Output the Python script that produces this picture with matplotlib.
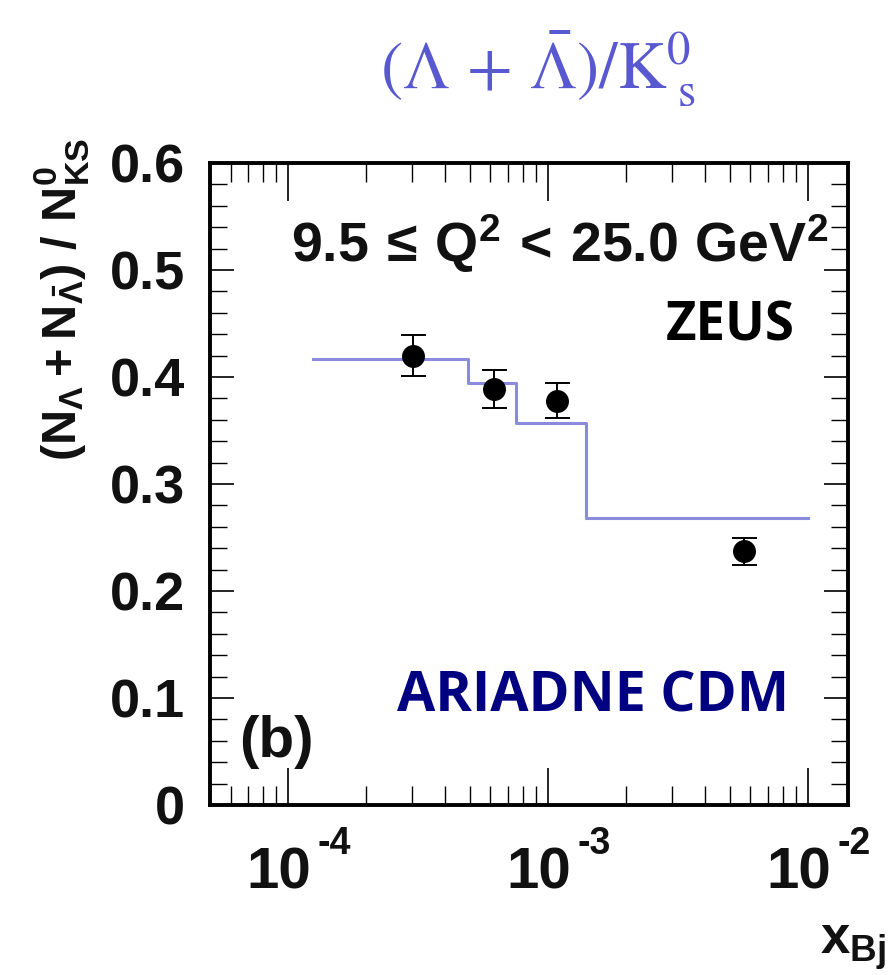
import matplotlib
matplotlib.use("Agg")
import matplotlib.pyplot as plt
from matplotlib.ticker import LogLocator, MultipleLocator, FixedLocator, NullFormatter
import numpy as np

plt.rcParams['mathtext.fontset'] = 'custom'
plt.rcParams['mathtext.rm'] = 'Liberation Sans:bold'
plt.rcParams['mathtext.bf'] = 'Liberation Sans:bold'
plt.rcParams['mathtext.it'] = 'Liberation Sans:bold'
plt.rcParams['mathtext.sf'] = 'Liberation Sans:bold'

# data
x_data = [3.03e-4, 6.2e-4, 1.08e-3, 5.67e-3]
y_data = [0.420, 0.389, 0.378, 0.237]
y_err = [0.019, 0.018, 0.016, 0.013]

mc_edges = [1.24e-4, 4.9e-4, 7.5e-4, 1.4e-3, 1.0e-2]
mc_vals = [0.417, 0.394, 0.357, 0.268]

yticks = [0, 0.1, 0.2, 0.3, 0.4, 0.5, 0.6]
ytick_labels = ['0', '0.1', '0.2', '0.3', '0.4', '0.5', '0.6']
xticks = [1e-4, 1e-3, 1e-2]
xtick_base = ['10', '10', '10']
xtick_exp = ['-4', '-3', '-2']

fig = plt.figure(figsize=(8.88, 9.75), dpi=100)
ax = fig.add_axes([210/888, 1-805/975, (848-210)/888, (805-163)/975])
ax.set_xscale('log')
ax.set_xlim(5.0e-5, 1.425e-2)
ax.set_ylim(0, 0.6)

# MC step histogram
step_x = mc_edges
step_y = mc_vals + [mc_vals[-1]]
ax.step(step_x, step_y, where='post', color='#8a8ade', lw=2.2, zorder=2)

# data points
ax.errorbar(x_data, y_data, yerr=y_err, fmt='o', color='black', ms=15.5,
            ecolor='black', elinewidth=1.4, capsize=9, capthick=1.4, zorder=3)

# ticks
ax.xaxis.set_major_locator(FixedLocator(xticks))
ax.set_xticklabels([])
ax.xaxis.set_minor_locator(LogLocator(base=10, subs=np.arange(2, 10), numticks=20))
ax.xaxis.set_minor_formatter(NullFormatter())
ax.set_yticks(yticks)
ax.set_yticklabels(ytick_labels)
ax.yaxis.set_minor_locator(MultipleLocator(0.02))

ax.tick_params(axis='both', which='both', direction='in', top=True, right=True, color='black')
ax.tick_params(axis='x', which='major', length=27, width=1.2)
ax.tick_params(axis='x', which='minor', length=14, width=1.0)
ax.tick_params(axis='y', which='major', length=17, width=1.2, labelsize=39, pad=18)
ax.tick_params(axis='y', which='minor', length=12, width=1.0)
for lab in ax.get_yticklabels():
    lab.set_fontweight('bold')
    lab.set_fontfamily('Liberation Sans')
    lab.set_color('#111111')

# custom x tick labels: base + raised exponent
xaxis_tr = ax.get_xaxis_transform()
for xt, b, e in zip(xticks, xtick_base, xtick_exp):
    ax.annotate(b, xy=(xt, 0), xycoords=xaxis_tr, xytext=(-7, -60), textcoords='offset points',
                ha='center', va='baseline', fontsize=42, fontweight='bold',
                family='Liberation Sans', color='#111111', annotation_clip=False)
    ax.annotate(e, xy=(xt, 0), xycoords=xaxis_tr, xytext=(21, -35), textcoords='offset points',
                ha='left', va='baseline', fontsize=27, fontweight='bold',
                family='Liberation Sans', color='#111111', annotation_clip=False)

for s in ax.spines.values():
    s.set_linewidth(2.8)
    s.set_color('black')

# texts
ax.text(0.548, 0.875, r'$\mathbf{9.5\,\leq\,Q^{2}\,<\,25.0\ GeV^{2}}$', transform=ax.transAxes,
        ha='center', va='center', fontsize=40, color='#111111')
ax.text(0.815, 0.745, 'ZEUS', transform=ax.transAxes, ha='center', va='center',
        fontsize=38, fontweight='bold', family='Open Sans', color='black')
ax.text(0.6, 0.168, 'ARIADNE CDM', transform=ax.transAxes, ha='center', va='center',
        fontsize=40, fontweight='bold', family='Open Sans', color='#000080')
ax.text(0.045, 0.098, '(b)', transform=ax.transAxes, ha='left', va='center',
        fontsize=42, fontweight='bold', family='Liberation Sans', color='#111111')

# title
fig.text(538/888, 1-68/975, r'$(\Lambda\,+\,\bar{\Lambda})/\mathrm{K}^{0}_{\ \mathrm{s}}$',
         ha='center', va='center', fontsize=48, color='#5858d0', math_fontfamily='stix')

# y label
fig.text(62/888, 1-138/975, r'$\mathbf{(N_{\Lambda}+N_{\bar{\Lambda}})\ /\ N^{0}_{KS}}$',
         rotation=90, ha='center', va='top', fontsize=35, color='#111111')

# x label
fig.text(886/888, 1-972/975, r'$\mathbf{x_{Bj}}$', ha='right', va='bottom',
         fontsize=38, color='#111111')

fig.savefig('out.png', dpi=100, facecolor='white')
